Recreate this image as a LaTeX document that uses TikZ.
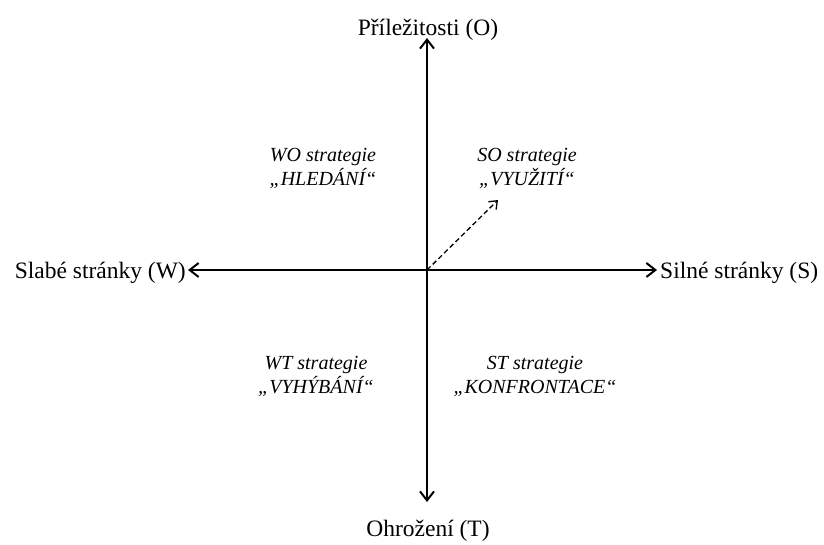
\documentclass[tikz,border=0pt]{standalone}
\usepackage{fontspec}
\setmainfont{Liberation Serif}
\usetikzlibrary{arrows.meta}
\begin{document}
\begin{tikzpicture}[x=1pt,y=-1pt,
  axis/.style={line width=2pt,{Straight Barb[length=9pt,width=14pt,line width=2pt]}-{Straight Barb[length=9pt,width=14pt,line width=2pt]}},
  lbl/.style={font=\fontsize{23.5}{26}\selectfont,inner sep=0pt},
  strat/.style={font=\fontsize{20}{24}\selectfont\itshape,align=center,inner sep=0pt}]
\useasboundingbox (0,0) rectangle (824,545);
\fill[white] (0,0) rectangle (824,545);
\coordinate (c) at (427,270);
\coordinate (top) at (427,38);
\coordinate (bot) at (427,502);
\coordinate (lft) at (188,270);
\coordinate (rgt) at (657,270);
\draw[axis] (bot) -- (top);
\draw[axis] (lft) -- (rgt);
\node[lbl,anchor=base] (o) at (428,36) {Příležitosti (O)};
\node[lbl,anchor=base] (t) at (428,536) {Ohrožení (T)};
\node[lbl,anchor=base east] (w) at (186,279) {Slabé stránky (W)};
\node[lbl,anchor=base west] (s) at (660,279) {Silné stránky (S)};
\node[strat] (wo) at (323,168) {WO strategie\\„HLEDÁNÍ“};
\node[strat] (so) at (527,168) {SO strategie\\„VYUŽITÍ“};
\node[strat] (wt) at (316,376) {WT strategie\\„VYHÝBÁNÍ“};
\node[strat] (st) at (535,376) {ST strategie\\„KONFRONTACE“};
\coordinate (dend) at (498,200);
\draw[line width=1.3pt,dash pattern=on 5pt off 3pt,-{Straight Barb[length=7pt,width=11pt,line width=1.3pt]}] (c) -- (dend);
\end{tikzpicture}
\end{document}
